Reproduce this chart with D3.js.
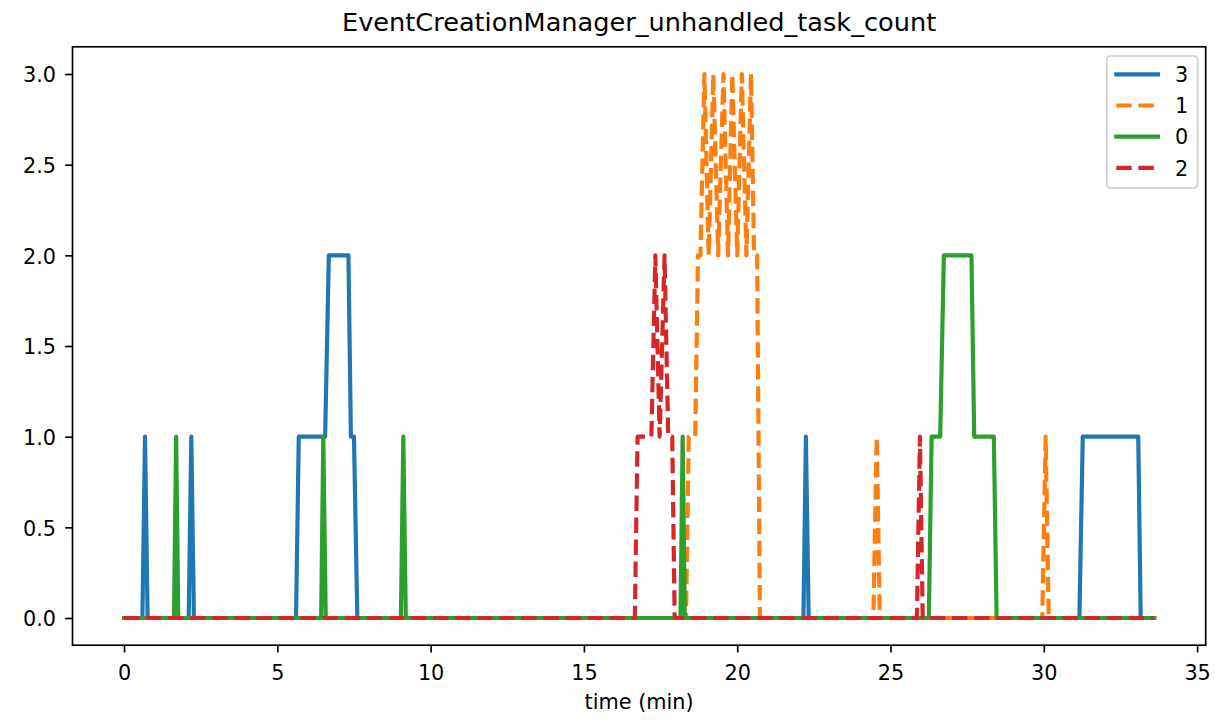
<!DOCTYPE html>
<html>
<head>
<meta charset="utf-8">
<script src="https://cdn.jsdelivr.net/npm/d3@7"></script>
<style>
  html, body { margin: 0; padding: 0; background: #ffffff; }
  svg { display: block; font-family: "DejaVu Sans", sans-serif; }
</style>
</head>
<body>
<svg id="chart" width="1217" height="721"></svg>
<script>
// ---- data (time in minutes, value) ----
const seriesNames = ["3", "1", "0", "2"];
const seriesColors = ["#1f77b4", "#ff7f0e", "#2ca02c", "#d62728"];
const seriesDashed = [false, true, false, true];

const series3 = [[0,0],[0.6,0],[0.685,1],[0.77,0],[2.11,0],[2.195,1],[2.28,0],[5.61,0],[5.70,1],[6.56,1],[6.68,2],[7.32,2],[7.40,1],[7.50,1],[7.61,0],[22.16,0],[22.24,1],[22.33,0],[31.16,0],[31.27,1],[33.08,1],[33.16,0],[33.6,0]];
const series1 = [[0,0],[18.33,0],[18.42,1],[18.63,1],[18.72,2],[18.8,2],[18.93,3],[19.07,2],[19.22,3],[19.38,2],[19.55,3],[19.70,2],[19.84,3],[20.0,2],[20.15,3],[20.3,2],[20.45,3],[20.55,2],[20.65,2],[20.74,0],[24.44,0],[24.55,1],[24.65,0],[29.95,0],[30.06,1],[30.16,0],[33.6,0]];
const series0 = [[0,0],[1.63,0],[1.70,1],[1.77,0],[6.43,0],[6.50,1],[6.58,0],[9.03,0],[9.11,1],[9.19,0],[18.15,0],[18.22,1],[18.29,0],[26.25,0],[26.34,1],[26.62,1],[26.74,2],[27.64,2],[27.73,1],[28.37,1],[28.46,0],[33.6,0]];
const series2 = [[0,0],[16.66,0],[16.75,1],[17.2,1],[17.33,2],[17.47,1],[17.63,2],[17.75,1],[17.88,1],[17.96,0],[25.86,0],[25.96,1],[26.05,0],[33.6,0]];
const seriesData = [series3, series1, series0, series2];

const xTicks = [0, 5, 10, 15, 20, 25, 30, 35];
const yTicks = [0, 0.5, 1.0, 1.5, 2.0, 2.5, 3.0];
const titleText = "EventCreationManager_unhandled_task_count";
const xLabelText = "time (min)";

// ---- layout ----
const svg = d3.select("#chart");
const pLeft = 72.5, pRight = 1205.7, pTop = 46.8, pBottom = 645.2;
const x = d3.scaleLinear().domain([-1.68, 35.28]).range([pLeft, pRight]);
const y = d3.scaleLinear().domain([-0.15, 3.15]).range([pBottom, pTop]);

const lw = 4.17;
const dash = "15.4,6.67";

svg.append("defs").append("clipPath").attr("id", "clip")
  .append("rect").attr("x", pLeft).attr("y", pTop).attr("width", pRight - pLeft).attr("height", pBottom - pTop);

// lines
const line = d3.line().x(d => x(d[0])).y(d => y(d[1]));
const g = svg.append("g").attr("clip-path", "url(#clip)");
seriesData.forEach((data, i) => {
  g.append("path")
    .attr("d", line(data))
    .attr("fill", "none")
    .attr("stroke", seriesColors[i])
    .attr("stroke-width", lw)
    .attr("stroke-linejoin", "round")
    .attr("stroke-linecap", seriesDashed[i] ? "butt" : "square")
    .attr("stroke-dasharray", seriesDashed[i] ? dash : null);
});

// axes
const xAxis = d3.axisBottom(x).tickValues(xTicks).tickFormat(d3.format("d")).tickSize(7.3).tickPadding(7);
const yAxis = d3.axisLeft(y).tickValues(yTicks).tickFormat(d3.format(".1f")).tickSize(7.3).tickPadding(7);

const gx = svg.append("g").attr("transform", `translate(0,${pBottom})`).call(xAxis);
const gy = svg.append("g").attr("transform", `translate(${pLeft},0)`).call(yAxis);
[gx, gy].forEach(ga => {
  ga.select(".domain").remove();
  ga.selectAll(".tick line").attr("stroke", "#000").attr("stroke-width", 1.67);
  ga.selectAll(".tick text").attr("fill", "#000").attr("font-size", "20.8px").attr("font-family", "DejaVu Sans, sans-serif");
});
gx.selectAll(".tick text").attr("dy", null).attr("y", 35);
gy.selectAll(".tick text").attr("dy", null).attr("y", 7.8).attr("x", -16.5);

// spines
svg.append("rect")
  .attr("x", pLeft).attr("y", pTop).attr("width", pRight - pLeft).attr("height", pBottom - pTop)
  .attr("fill", "none").attr("stroke", "#000").attr("stroke-width", 1.67);

// title & label
svg.append("text").attr("x", (pLeft + pRight) / 2).attr("y", 31)
  .attr("text-anchor", "middle").attr("font-size", "25.6px").attr("fill", "#000").text(titleText);
svg.append("text").attr("x", (pLeft + pRight) / 2).attr("y", 709)
  .attr("text-anchor", "middle").attr("font-size", "20.8px").attr("fill", "#000").text(xLabelText);

// legend
const lg = svg.append("g");
lg.append("rect").attr("x", 1106.7).attr("y", 56).attr("width", 91).attr("height", 132)
  .attr("rx", 4).attr("ry", 4)
  .attr("fill", "#ffffff").attr("fill-opacity", 0.8)
  .attr("stroke", "#cccccc").attr("stroke-width", 1.67);
const rowY = [74.3, 105.5, 136.7, 167.9];
seriesNames.forEach((name, i) => {
  lg.append("line")
    .attr("x1", 1116.3).attr("x2", 1158).attr("y1", rowY[i]).attr("y2", rowY[i])
    .attr("stroke", seriesColors[i]).attr("stroke-width", lw)
    .attr("stroke-linecap", seriesDashed[i] ? "butt" : "square")
    .attr("stroke-dasharray", seriesDashed[i] ? dash : null);
  lg.append("text").attr("x", 1175).attr("y", rowY[i] + 7.6)
    .attr("font-size", "20.8px").attr("fill", "#000").text(name);
});
</script>
</body>
</html>
